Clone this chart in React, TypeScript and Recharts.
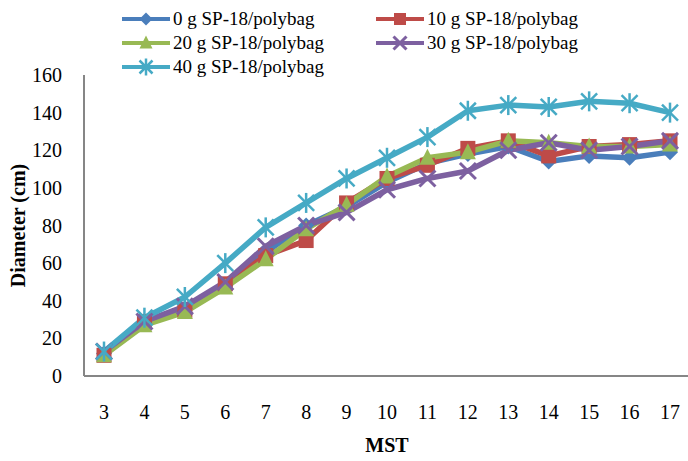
import React from 'react';
import { LineChart, Line, XAxis, YAxis } from 'recharts';

const weeks = [3, 4, 5, 6, 7, 8, 9, 10, 11, 12, 13, 14, 15, 16, 17];
const dose0 = [12, 28, 36, 48, 66, 80, 90, 103, 113, 118, 122, 114, 117, 116, 119];
const dose10 = [11, 29, 35, 49, 64, 72, 92, 105, 112, 121, 125, 117, 122, 123, 125];
const dose20 = [11, 27, 34, 47, 62, 78, 91, 106, 116, 119, 125, 124, 122, 122, 123];
const dose30 = [13, 29, 37, 50, 69, 80, 87, 99, 105, 109, 120, 124, 120, 122, 125];
const dose40 = [13, 31, 42, 60, 79, 92, 105, 116, 127, 141, 144, 143, 146, 145, 140];
const yTicks = [0, 20, 40, 60, 80, 100, 120, 140, 160];

const seriesKeys = ['d0', 'd10', 'd20', 'd30', 'd40'];
const seriesNames = [
  '0 g SP-18/polybag',
  '10 g SP-18/polybag',
  '20 g SP-18/polybag',
  '30 g SP-18/polybag',
  '40 g SP-18/polybag',
];
const seriesColors = ['#4A7EBB', '#BE4B48', '#98B954', '#7D60A0', '#46AAC5'];
const markerKinds = ['diamond', 'square', 'triangle', 'cross', 'star'];

const data = weeks.map((w, i) => ({
  week: w,
  d0: dose0[i],
  d10: dose10[i],
  d20: dose20[i],
  d30: dose30[i],
  d40: dose40[i],
}));

const FONT = '"Liberation Serif", "Times New Roman", serif';

// s = half size of the marker
const Marker = ({ kind, cx, cy, color, s = 8 }: { kind: string; cx: number; cy: number; color: string; s?: number }) => {
  if (cx == null || cy == null) return null;
  switch (kind) {
    case 'diamond':
      return <polygon points={`${cx},${cy - s} ${cx + s},${cy} ${cx},${cy + s} ${cx - s},${cy}`} fill={color} />;
    case 'square':
      return <rect x={cx - s + 0.5} y={cy - s + 0.5} width={2 * s - 1} height={2 * s - 1} fill={color} />;
    case 'triangle':
      return <polygon points={`${cx},${cy - s - 1} ${cx + s},${cy + s - 1} ${cx - s},${cy + s - 1}`} fill={color} />;
    case 'cross':
      return (
        <g stroke={color} strokeWidth={3}>
          <line x1={cx - s} y1={cy - s} x2={cx + s} y2={cy + s} />
          <line x1={cx - s} y1={cy + s} x2={cx + s} y2={cy - s} />
        </g>
      );
    case 'star':
      return (
        <g stroke={color} strokeWidth={2.5}>
          <line x1={cx - s} y1={cy - s} x2={cx + s} y2={cy + s} />
          <line x1={cx - s} y1={cy + s} x2={cx + s} y2={cy - s} />
          <line x1={cx} y1={cy - s - 2} x2={cx} y2={cy + s + 2} />
        </g>
      );
    default:
      return null;
  }
};

const LegendRow = ({ idx }: { idx: number }) => (
  <div style={{ display: 'flex', alignItems: 'center', height: 24 }}>
    <svg width={48} height={24} style={{ marginRight: 3 }}>
      <line x1={0} y1={12} x2={48} y2={12} stroke={seriesColors[idx]} strokeWidth={4} />
      <Marker kind={markerKinds[idx]} cx={24} cy={12} color={seriesColors[idx]} s={6.5} />
    </svg>
    <span style={{ fontSize: 19, lineHeight: '24px', whiteSpace: 'nowrap' }}>{seriesNames[idx]}</span>
  </div>
);

export default function App() {
  return (
    <div style={{ position: 'absolute', left: 0, top: 0, width: 688, height: 461, fontFamily: FONT, background: '#fff' }}>
      <div style={{ position: 'absolute', left: 122, top: 7 }}>
        <LegendRow idx={0} />
        <LegendRow idx={2} />
        <LegendRow idx={4} />
      </div>
      <div style={{ position: 'absolute', left: 376, top: 7 }}>
        <LegendRow idx={1} />
        <LegendRow idx={3} />
      </div>
      <LineChart
        width={688}
        height={461}
        data={data}
        margin={{ top: 75, right: -2, bottom: 0, left: 0 }}
        style={{ fontFamily: FONT }}
      >
        <XAxis
          dataKey="week"
          height={85}
          padding={{ left: 20, right: 20 }}
          tickLine={false}
          tickSize={0}
          tickMargin={29}
          interval={0}
          axisLine={{ stroke: '#868686', strokeWidth: 2 }}
          tick={{ fill: '#000', fontSize: 20, fontFamily: FONT }}
          label={{ value: 'MST', position: 'insideBottom', offset: 9, fill: '#000', fontSize: 20, fontWeight: 'bold', fontFamily: FONT }}
        />
        <YAxis
          width={84}
          domain={[0, 160]}
          ticks={yTicks}
          interval={0}
          tickLine={false}
          tickSize={0}
          tickMargin={22}
          axisLine={{ stroke: '#868686', strokeWidth: 2 }}
          tick={{ fill: '#000', fontSize: 20, fontFamily: FONT }}
          label={{
            value: 'Diameter (cm)',
            angle: -90,
            position: 'insideLeft',
            offset: 18,
            fill: '#000',
            fontSize: 20,
            fontWeight: 'bold',
            fontFamily: FONT,
            style: { textAnchor: 'middle' },
          }}
        />
        {seriesKeys.map((k, i) => (
          <Line
            key={k}
            dataKey={k}
            name={seriesNames[i]}
            stroke={seriesColors[i]}
            strokeWidth={5.5}
            strokeLinejoin="round"
            isAnimationActive={false}
            dot={(p: any) => (
              <Marker key={`${k}-${p.index}`} kind={markerKinds[i]} cx={p.cx} cy={p.cy} color={seriesColors[i]} />
            )}
            activeDot={false}
          />
        ))}
      </LineChart>
    </div>
  );
}
